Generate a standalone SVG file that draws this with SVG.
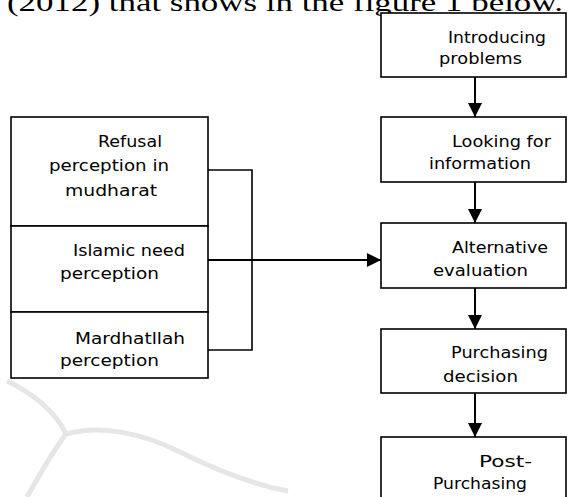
<svg xmlns="http://www.w3.org/2000/svg" width="567" height="497" viewBox="0 0 567 497">
<style>
.box{fill:#fff;stroke:#000;stroke-width:1.6}
.t{font-family:"DejaVu Sans","Liberation Sans",sans-serif;font-size:15px;fill:#000}
.conn{fill:none;stroke:#000;stroke-width:2}
.br{fill:none;stroke:#000;stroke-width:1.6}
.wm{fill:none;stroke:#e6e6e6;stroke-width:5;stroke-linecap:butt}
</style>
<defs>
<marker id="ah" markerWidth="14" markerHeight="14" viewBox="0 0 14 14" refX="14" refY="7" orient="auto" markerUnits="userSpaceOnUse">
<path d="M0,0 L14,7 L0,14 Z" fill="#000"/>
</marker>
</defs>
<rect width="567" height="497" fill="#fff"/>
<g id="watermark">
<path class="wm" d="M7,381 C30,392 55,410 66,434 C100,425 140,432 180,452 C220,472 255,485 288,491"/>
<path class="wm" d="M66,434 C50,455 38,478 27,497"/>
</g>
<text x="7" y="11" font-family="Liberation Serif,serif" font-size="26" fill="#000" textLength="556" lengthAdjust="spacingAndGlyphs">(2012) that shows in the figure 1 below.</text>
<g id="connectors">
<line class="conn" x1="475" y1="77" x2="475" y2="117" marker-end="url(#ah)"/>
<line class="conn" x1="475" y1="182" x2="475" y2="223" marker-end="url(#ah)"/>
<line class="conn" x1="475" y1="288" x2="475" y2="329" marker-end="url(#ah)"/>
<line class="conn" x1="475" y1="393" x2="475" y2="437" marker-end="url(#ah)"/>
<path class="br" d="M208,170 H252 V350 H208"/>
<line class="conn" x1="208" y1="260" x2="381" y2="260" marker-end="url(#ah)"/>
</g>
<g id="n-introducing">
<rect class="box" x="381" y="13" width="185" height="64"/>
<text class="t" x="448" y="42.7" textLength="98" lengthAdjust="spacingAndGlyphs">Introducing</text>
<text class="t" x="439" y="64.3" textLength="83" lengthAdjust="spacingAndGlyphs">problems</text>
</g>
<g id="n-looking">
<rect class="box" x="381" y="117" width="185" height="65"/>
<text class="t" x="452" y="146.7" textLength="99" lengthAdjust="spacingAndGlyphs">Looking for</text>
<text class="t" x="429" y="169.3" textLength="102" lengthAdjust="spacingAndGlyphs">information</text>
</g>
<g id="n-alternative">
<rect class="box" x="381" y="223" width="185" height="65"/>
<text class="t" x="452" y="253.3" textLength="96" lengthAdjust="spacingAndGlyphs">Alternative</text>
<text class="t" x="433" y="275.7" textLength="95" lengthAdjust="spacingAndGlyphs">evaluation</text>
</g>
<g id="n-purchasing">
<rect class="box" x="381" y="329" width="185" height="64"/>
<text class="t" x="451" y="357.7" textLength="97" lengthAdjust="spacingAndGlyphs">Purchasing</text>
<text class="t" x="443" y="381.7" textLength="75" lengthAdjust="spacingAndGlyphs">decision</text>
</g>
<g id="n-post">
<rect class="box" x="381" y="437" width="185" height="80"/>
<text class="t" x="479" y="466.7" textLength="53" lengthAdjust="spacingAndGlyphs">Post-</text>
<text class="t" x="433" y="489.3" textLength="94" lengthAdjust="spacingAndGlyphs">Purchasing</text>
</g>
<g id="n-refusal">
<rect class="box" x="11" y="117" width="197" height="109"/>
<text class="t" x="98" y="146.7" textLength="64" lengthAdjust="spacingAndGlyphs">Refusal</text>
<text class="t" x="49" y="170.5" textLength="120" lengthAdjust="spacingAndGlyphs">perception in</text>
<text class="t" x="65" y="195.5" textLength="92" lengthAdjust="spacingAndGlyphs">mudharat</text>
</g>
<g id="n-islamic">
<rect class="box" x="11" y="226" width="197" height="86"/>
<text class="t" x="73" y="255.7" textLength="112" lengthAdjust="spacingAndGlyphs">Islamic need</text>
<text class="t" x="60" y="279" textLength="99" lengthAdjust="spacingAndGlyphs">perception</text>
</g>
<g id="n-mardhatllah">
<rect class="box" x="11" y="312" width="197" height="66"/>
<text class="t" x="75" y="343.5" textLength="110" lengthAdjust="spacingAndGlyphs">Mardhatllah</text>
<text class="t" x="60" y="366" textLength="99" lengthAdjust="spacingAndGlyphs">perception</text>
</g>
</svg>
